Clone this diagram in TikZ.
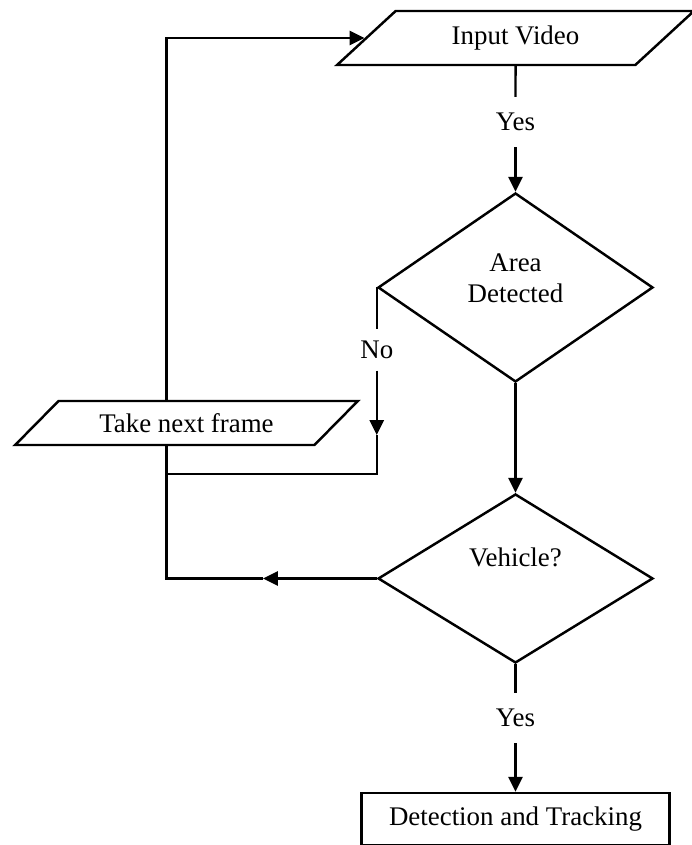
\documentclass[tikz,border=0pt]{standalone}
\usepackage{fontspec}
\setmainfont{Liberation Serif}
\usetikzlibrary{shapes.geometric,arrows.meta}
\begin{document}
\begin{tikzpicture}[line width=1.4pt,>={Triangle[length=8.5pt,width=8pt]},
	font=\fontsize{15.3}{17.5}\selectfont,
	io/.style={draw,trapezium,trapezium stretches=true,inner sep=0pt},
	decision/.style={draw,diamond,inner sep=0pt},
	lbl/.style={inner sep=0pt,minimum height=#1},
	lbl/.default=0.96cm]
	\useasboundingbox (0,0) rectangle (13.82,16.9);
	\node[io,trapezium left angle=38,trapezium right angle=142,minimum width=7.14cm,minimum height=1.08cm](iv) at (10.31,16.14){Input Video};
	\node[lbl](yes1) at (10.31,14.46){Yes};
	\node[decision,minimum width=5.5cm,minimum height=3.78cm,label={[yshift=0.19cm,align=center]center:Area\\Detected}](area) at (10.31,11.15){};
	\coordinate (nolvl) at (0,9.9);
	\node[lbl=0.78cm](no) at (area.west|-nolvl){No};
	\node[io,trapezium left angle=33,trapezium right angle=147,minimum width=6.86cm,minimum height=0.88cm](tnf) at (3.73,8.44){Take next frame};
	\node[decision,minimum width=5.5cm,minimum height=3.38cm,label={[yshift=0.43cm]center:Vehicle?}](veh) at (10.31,5.33){};
	\node[lbl](yes2) at (10.31,2.54){Yes};
	\node[draw,minimum width=6.16cm,minimum height=1.04cm,inner sep=0pt](dt) at (10.31,0.52){Detection and Tracking};
	\coordinate (side) at (3.33,0);
	\coordinate (noarrow) at (area.west|-0,8.2);
	\coordinate (backarrow) at (5.26,5.33);
	\draw(iv.south)--(yes1.north);
	\draw[->](yes1.south)--(area.north);
	\draw[->](area.south)--(veh.north);
	\draw(veh.south)--(yes2.north);
	\draw[->](yes2.south)--(dt.north);
	\draw(area.west)--(no.north);
	\draw[->](no.south)--(noarrow);
	\draw(noarrow)|-(side|-0,7.42);
	\draw[->](veh.west)--(backarrow);
	\draw(backarrow)-|(tnf.south-|side);
	\draw[->](tnf.north-|side)|-(iv.west);
\end{tikzpicture}
\end{document}
